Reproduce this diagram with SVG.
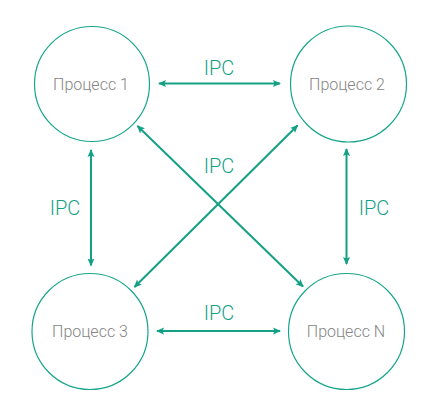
<svg xmlns="http://www.w3.org/2000/svg" width="439" height="413" viewBox="0 0 439 413">
<style>
.node circle{fill:#fff;stroke:#16a58a;stroke-width:1.2}
.node text{font-family:Roboto,"Liberation Sans",sans-serif;font-size:16px;fill:#858585;text-anchor:middle;font-weight:300}
.lbl{font-family:Roboto,"Liberation Sans",sans-serif;font-size:20px;fill:#14a085;text-anchor:middle;font-weight:300}
.conn line{stroke:#14a085;stroke-width:2;marker-start:url(#a);marker-end:url(#a)}
</style>
<defs>
<marker id="a" viewBox="0 0 8 8" refX="7" refY="4" markerWidth="8" markerHeight="8" markerUnits="userSpaceOnUse" orient="auto-start-reverse">
<path d="M0,0.5 L8,4 L0,7.5 L1.5,4 z" fill="#14a085"/>
</marker>
</defs>
<rect width="439" height="413" fill="#fff"/>
<g id="n1" class="node"><circle cx="92" cy="84" r="57.5"/><text x="91" y="90">Процесс 1</text></g>
<g id="n2" class="node"><circle cx="348.5" cy="84" r="58"/><text x="347" y="90">Процесс 2</text></g>
<g id="n3" class="node"><circle cx="90" cy="331.5" r="58"/><text x="90" y="337">Процесс 3</text></g>
<g id="nN" class="node"><circle cx="346.5" cy="331.5" r="58"/><text x="346" y="337">Процесс N</text></g>
<g id="connectors" class="conn">
<line x1="159" y1="83.5" x2="280" y2="83.5"/>
<line x1="157" y1="331" x2="280" y2="331"/>
<line x1="91" y1="150" x2="91" y2="265.5"/>
<line x1="346.5" y1="149" x2="346.5" y2="264"/>
<line x1="137.5" y1="126" x2="303" y2="286.5"/>
<line x1="297.5" y1="125.5" x2="134.5" y2="287"/>
</g>
<g id="labels">
<text class="lbl" x="219" y="74.5">IPC</text>
<text class="lbl" x="219" y="172.5">IPC</text>
<text class="lbl" x="65" y="215">IPC</text>
<text class="lbl" x="374" y="215">IPC</text>
<text class="lbl" x="219" y="319.5">IPC</text>
</g>
</svg>
